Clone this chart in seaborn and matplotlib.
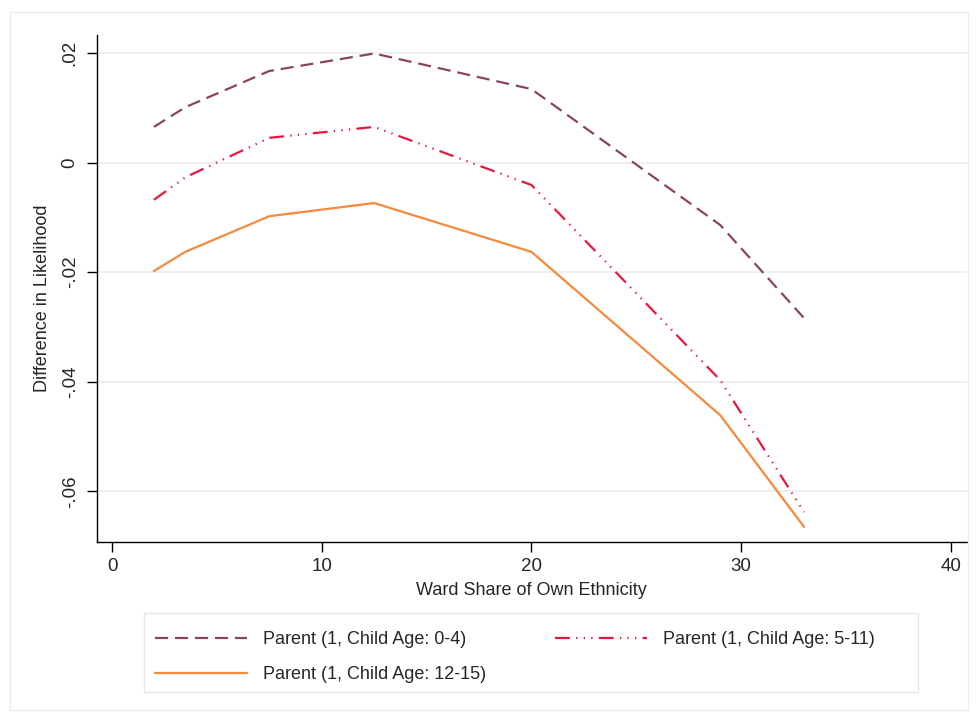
import numpy as np
import pandas as pd
import matplotlib.pyplot as plt
import seaborn as sns
from matplotlib.patches import Rectangle

# ── data ────────────────────────────────────────────────────────────────────
ward_share = [2.0, 3.5, 7.5, 12.5, 20.0, 29.0, 33.0]
age_0_4 = [0.0065, 0.0101, 0.0167, 0.0199, 0.0134, -0.0114, -0.0284]
age_5_11 = [-0.0068, -0.0027, 0.0045, 0.0065, -0.0041, -0.0397, -0.0638]
age_12_15 = [-0.0198, -0.0163, -0.0098, -0.0074, -0.0163, -0.0461, -0.0665]
series_labels = ["Parent (1, Child Age: 0-4)", "Parent (1, Child Age: 5-11)",
                 "Parent (1, Child Age: 12-15)"]
x_ticks = [0, 10, 20, 30, 40]
y_ticks = [0.02, 0, -0.02, -0.04, -0.06]
y_tick_labels = [".02", "0", "-.02", "-.04", "-.06"]

sns.set_style("white")
plt.rcParams['font.family'] = ['Liberation Sans', 'DejaVu Sans']

df = pd.DataFrame({
    'x': ward_share * 3,
    'y': age_0_4 + age_5_11 + age_12_15,
    'series': np.repeat(series_labels, len(ward_share)),
})

colors = ['#8a4658', '#e5173f', '#f58a3c']
styles = [(0, (5.9, 3.1)), (0, (6.7, 2.8, 0.6, 2.8, 0.6, 2.8, 0.6, 2.8)), '-']
fs = 13

W, H = 976, 719
fig = plt.figure(figsize=(W / 100, H / 100), dpi=100)
# faint outer frame and legend box, in pixel positions of the reference
fig.patches.append(Rectangle((10 / W, 9 / H), 958 / W, 698 / H,
                             transform=fig.transFigure, fill=False,
                             edgecolor='#ececec', linewidth=1))
fig.patches.append(Rectangle((144 / W, (H - 692) / H), 774 / W, 79 / H,
                             transform=fig.transFigure, fill=False,
                             edgecolor='#e6e6e6', linewidth=1))
ax = fig.add_axes([96.7 / W, 177.3 / H, 870.3 / W, 506.7 / H])

for lab, col, ls in zip(series_labels, colors, styles):
    sns.lineplot(data=df[df['series'] == lab], x='x', y='y', ax=ax,
                 color=col, linewidth=1.6, label=lab, linestyle=ls)

ax.set_xlim(-0.73, 40.77)
ax.set_ylim(-0.0692, 0.02327)
ax.set_xticks(x_ticks)
ax.set_yticks(y_ticks)
ax.set_yticklabels(y_tick_labels, rotation=90, va='center')
ax.tick_params(axis='both', direction='out', length=7, width=1, color='black',
               labelsize=13.5, bottom=True, left=True)
ax.tick_params(axis='x', pad=5)
ax.tick_params(axis='y', pad=6)
ax.grid(axis='y', color='#eaeef0', linewidth=1.2)
ax.grid(axis='x', visible=False)
for s in ['top', 'right']:
    ax.spines[s].set_visible(False)
for s in ['left', 'bottom']:
    ax.spines[s].set_color('black')
    ax.spines[s].set_linewidth(1)
ax.set_xlabel("Ward Share of Own Ethnicity", fontsize=fs, labelpad=5)
ax.set_ylabel("Difference in Likelihood", fontsize=fs)
ax.yaxis.set_label_coords(-0.052, 0.48)

handles, labels = ax.get_legend_handles_labels()
ax.get_legend().remove()
order = [0, 2, 1]  # fill legend row by row, like the reference
leg = fig.legend([handles[i] for i in order], [labels[i] for i in order],
                 ncol=2, loc='upper left',
                 bbox_to_anchor=(155 / W, (H - 631) / H),
                 fontsize=fs, handlelength=5.1, handletextpad=0.9,
                 columnspacing=3.8, labelspacing=1.02, frameon=False,
                 borderpad=0, borderaxespad=0)

fig.savefig('out.png', dpi=100)
